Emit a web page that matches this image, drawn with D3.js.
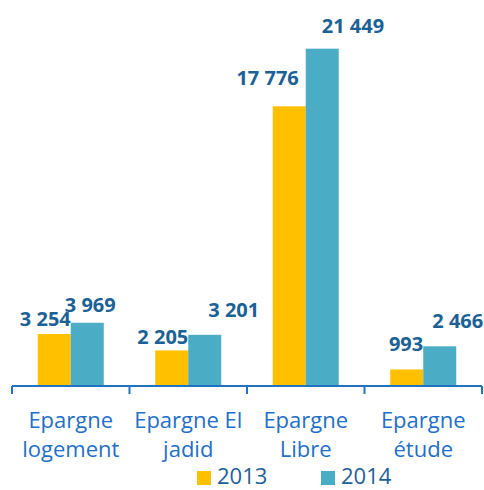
<!DOCTYPE html>
<html><head><meta charset="utf-8">
<script src="https://cdn.jsdelivr.net/npm/d3@7"></script>
<style>body{margin:0;background:#fff}svg{display:block}</style>
</head><body>
<script>
const categories = [["Epargne","logement"],["Epargne El","jadid"],["Epargne","Libre"],["Epargne","étude"]];
const seriesNames = ["2013","2014"];
const values2013 = [3254, 2205, 17776, 993];
const values2014 = [3969, 3201, 21449, 2466];
const valueLabels2013 = ["3 254","2 205","17 776","993"];
const valueLabels2014 = ["3 969","3 201","21 449","2 466"];
const colors = ["#FFC000","#4BACC6"];
// manual label nudges (as in the original, labels were moved by hand)
const nudge2013 = [[0,-8],[0,-6],[-7,-21],[0,-18]];
const nudge2014 = [[-6,-11],[20,-18],[16,-16],[9,-18]];

const W=484,H=490;
const svg=d3.select("body").append("svg").attr("width",W).attr("height",H);
const font="'Open Sans', sans-serif";
const keys=categories.map((c,i)=>String(i));
const x=d3.scaleBand().domain(keys).range([12,482]).padding(0);
const x1=d3.scaleBand().domain(seriesNames).range([0,66]);
const y=d3.scaleLinear().domain([0,25000]).range([385,-7]);
const series=[values2013,values2014];
const labels=[valueLabels2013,valueLabels2014];
const nudges=[nudge2013,nudge2014];

series.forEach((vals,s)=>{
  const g=svg.append("g");
  g.selectAll("rect").data(vals).join("rect")
    .attr("x",(d,i)=>x(keys[i])+x.bandwidth()/2-33+x1(seriesNames[s]))
    .attr("y",d=>y(d))
    .attr("width",x1.bandwidth())
    .attr("height",d=>y(0)-y(d))
    .attr("fill",colors[s]);
});
series.forEach((vals,s)=>{
  svg.append("g").selectAll("text").data(vals).join("text")
    .attr("x",(d,i)=>x(keys[i])+x.bandwidth()/2+nudges[s][i][0])
    .attr("y",(d,i)=>y(d)+nudges[s][i][1])
    .attr("text-anchor",s===0?"end":"start")
    .attr("font-family",font).attr("font-weight","bold").attr("font-size",20)
    .attr("fill","#1B6195")
    .text((d,i)=>labels[s][i]);
});

// axis
const ax=svg.append("g").attr("stroke","#1F72C4").attr("stroke-width",2).attr("fill","none");
ax.append("line").attr("x1",x.range()[0]).attr("x2",x.range()[1]).attr("y1",386).attr("y2",386);
const bounds=keys.map(k=>x(k)).concat([x.range()[1]]);
ax.selectAll("line.t").data(bounds).join("line").attr("class","t")
  .attr("x1",d=>d).attr("x2",d=>d).attr("y1",386).attr("y2",394);

// category labels
categories.forEach((lines,i)=>{
  const t=svg.append("text").attr("text-anchor","middle")
    .attr("font-family",font).attr("font-size",22).attr("fill","#1F6FC8");
  lines.forEach((ln,j)=>{
    t.append("tspan").attr("x",x(keys[i])+x.bandwidth()/2).attr("y",428+j*29).text(ln);
  });
});

// legend
const legX=[197,321];
seriesNames.forEach((n,s)=>{
  svg.append("rect").attr("x",legX[s]).attr("y",471).attr("width",14).attr("height",14).attr("fill",colors[s]);
  svg.append("text").attr("x",legX[s]+20).attr("y",484)
    .attr("font-family",font).attr("font-size",22).attr("fill","#1F5F99").text(n);
});
</script>
</body></html>
